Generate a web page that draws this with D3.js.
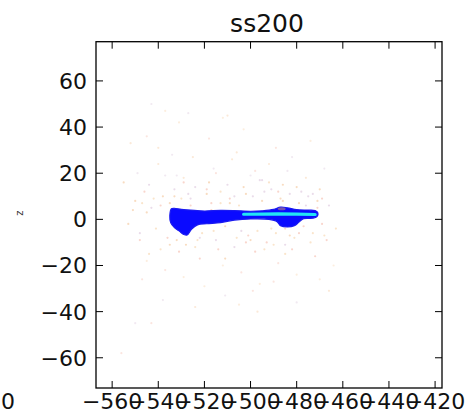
<!DOCTYPE html>
<html>
<head>
<meta charset="utf-8">
<script src="https://cdn.jsdelivr.net/npm/d3@7/dist/d3.min.js"></script>
<style>
  html, body { margin: 0; padding: 0; background: #fff; }
  svg { display: block; font-family: "DejaVu Sans", sans-serif; }
</style>
</head>
<body>
<svg id="chart" width="468" height="419"></svg>
<script>
// Axis ticks
const xTicks = [-560, -540, -520, -500, -480, -460, -440, -420];
const zTicks = [-60, -40, -20, 0, 20, 40, 60];

// Outline of the dense core of the projection (x, z)
const coreX = [-534.3, -533, -530, -526, -520, -513, -507, -500, -495, -490, -487, -484, -480, -475, -472, -470.8, -471.2,
               -473, -477, -479, -481, -484, -487, -488.5, -492, -500, -507, -513, -519, -523, -525.5, -527.5, -529, -531, -533, -534.6, -535];
const coreZ = [4.6, 4.8, 4.3, 4.0, 3.6, 3.9, 3.8, 3.5, 3.7, 4.3, 5.3, 5.0, 4.2, 4.0, 3.8, 2.8, 1.2,
               0.5, 0.3, -1.2, -2.8, -3.3, -2.8, -1.0, 0.0, 0.2, -0.3, -1.4, -1.9, -2.4, -4.2, -6.8, -6.5, -5.0, -3.6, -1.5, 1.5];

// Highest-density ridge along the core
const ridgeX = [-503, -495, -488, -480, -472];
const ridgeZ = [2.2, 2.3, 2.4, 2.3, 2.1];

// Diffuse halo particles
const haloX = [-550, -546, -543, -541, -538, -536, -533, -530, -528, -526, -524, -521, -519, -517, -515, -513, -511, -509, -507, -505,
               -503, -501, -499, -497, -495, -493, -491, -489, -487, -485, -483, -481, -479, -477, -475, -473, -471, -469, -466, -463,
               -553, -548, -544, -539, -535, -531, -527, -523, -518, -514, -510, -506, -502, -498, -494, -490, -486, -482, -478, -474,
               -470, -467,
               -549, -545, -540, -537, -532, -529, -525, -522, -516, -512, -508, -504, -500, -496, -492, -488, -484, -480, -476, -472,
               -468, -464, -555, -547, -534, -520, -506, -490, -482, -470,
               -552, -545, -538, -531, -524, -518, -511, -503, -497, -489, -480, -474, -466, -543, -527, -512, -540, -499,
               -543, -537, -510, -556, -550, -505, -529, -515, -495, -485, -545, -521,
               -548, -542, -535, -529, -522, -516, -509, -502, -496, -491, -486, -479, -473, -468, -551, -539, -526, -513, -500, -488,
               -476, -544, -532, -519, -507, -494, -483, -471, -537, -524, -511, -498, -485, -547, -533, -517, -504, -492, -480, -469];
const haloZ = [8, 12, 5, -4, 10, -8, 13, 9, -11, 6, 14, -6, 11, 7, -9, 12, -3, 9, -12, 6,
               14, -7, 10, -5, 8, -10, 13, -6, 9, -4, 11, -8, 7, -3, 10, -6, 8, -2, 6, -4,
               -2, -9, 15, -13, 7, -14, 11, -9, 16, -13, 15, -8, 11, -14, 12, -11, 15, -13, 12, -10,
               13, -9,
               20, -18, 24, -22, 19, -25, 27, -17, 22, -20, 26, -23, 19, -28, 24, -19, 21, -24, 18, -16,
               22, -20, 16, -26, 28, -29, 29, -27, 27, -26,
               33, 36, -35, 42, -38, 35, -33, 39, -40, 31, -36, 34, -31, -45, 46, 44, 31, -31,
               50, 47, 45, -58, -45, -37, 18, 20, 17, -15, 3, 2,
               -6, 9, -11, 16, -8, -5, 7, -10, 17, -4, 8, -6, 11, -7, 4, 6, 9, 7, -9, 12,
               6, -15, -9, 13, 10, -13, -7, 5, 19, -12, -17, 21, -11, 7, 10, 4, -5, 16, 14, 9];
const haloTint = ["#f3bf8e", "#f4b4a4", "#d8c0d8", "#f6cfa2"];

const svg = d3.select("#chart");
const padL = 96, padR = 442, padT = 41.7, padB = 388;

const x = d3.scaleLinear().domain([-567, -417]).range([padL, padR]);
const z = d3.scaleLinear().domain([-73.1, 77]).range([padB, padT]);

const fmt = v => (v < 0 ? "\u2212" + Math.abs(v) : String(v));

// plotting area clip
svg.append("clipPath").attr("id", "plot-clip")
  .append("rect").attr("x", padL).attr("y", padT).attr("width", padR - padL).attr("height", padB - padT);

const plot = svg.append("g").attr("clip-path", "url(#plot-clip)");

// halo
plot.append("g").selectAll("circle")
  .data(d3.range(haloX.length))
  .join("circle")
  .attr("cx", i => x(haloX[i]))
  .attr("cy", i => z(haloZ[i]))
  .attr("r", 1.1)
  .attr("fill", i => haloTint[i % 4])
  .attr("fill-opacity", i => (Math.abs(haloZ[i]) < 18 ? 0.55 : 0.35));

// core
const corePts = coreX.map((v, i) => [x(v), z(coreZ[i])]);
plot.append("path")
  .attr("d", d3.line().curve(d3.curveCatmullRomClosed.alpha(0.5))(corePts))
  .attr("fill", "#0a0aff")
  .attr("stroke", "#1a1af0")
  .attr("stroke-width", 1.2)
  .attr("stroke-linejoin", "round");

// warm spot on top of the core
plot.append("ellipse")
  .attr("cx", x(-486.5)).attr("cy", z(4.6))
  .attr("rx", 4).attr("ry", 1.6)
  .attr("fill", "#d09070").attr("fill-opacity", 0.55);

// ridge
plot.append("path")
  .attr("d", d3.line()(ridgeX.map((v, i) => [x(v), z(ridgeZ[i])])))
  .attr("fill", "none")
  .attr("stroke", "#22e4f4")
  .attr("stroke-width", 3.2)
  .attr("stroke-linecap", "round");

// frame
svg.append("rect")
  .attr("x", padL).attr("y", padT)
  .attr("width", padR - padL).attr("height", padB - padT)
  .attr("fill", "none").attr("stroke", "#000").attr("stroke-width", 1.3);

// inward ticks on all four sides
const tickLen = 7;
const tg = svg.append("g").attr("stroke", "#000").attr("stroke-width", 1);
xTicks.forEach(t => {
  tg.append("line").attr("x1", x(t)).attr("x2", x(t)).attr("y1", padB).attr("y2", padB - tickLen);
  tg.append("line").attr("x1", x(t)).attr("x2", x(t)).attr("y1", padT).attr("y2", padT + tickLen);
});
zTicks.forEach(t => {
  tg.append("line").attr("y1", z(t)).attr("y2", z(t)).attr("x1", padL).attr("x2", padL + tickLen);
  tg.append("line").attr("y1", z(t)).attr("y2", z(t)).attr("x1", padR).attr("x2", padR - tickLen);
});

// tick labels
svg.append("g").selectAll("text")
  .data(xTicks).join("text")
  .attr("x", d => x(d)).attr("y", 409)
  .attr("text-anchor", "middle")
  .attr("font-size", 22).attr("fill", "#111")
  .text(fmt);

svg.append("g").selectAll("text")
  .data(zTicks).join("text")
  .attr("x", 87).attr("y", d => z(d)).attr("dy", "0.36em")
  .attr("text-anchor", "end")
  .attr("font-size", 22).attr("fill", "#111")
  .text(fmt);

// axis label
svg.append("text")
  .attr("transform", "translate(23,213) rotate(-90)")
  .attr("text-anchor", "middle")
  .attr("font-size", 10).attr("fill", "#333")
  .text("z");

// title
svg.append("text")
  .attr("x", (padL + padR) / 2 - 2).attr("y", 31.5)
  .attr("text-anchor", "middle")
  .attr("font-size", 25).attr("fill", "#111")
  .text("ss200");

// neighbouring colour-scale label
svg.append("text")
  .attr("x", 1).attr("y", 409)
  .attr("font-size", 22).attr("fill", "#111")
  .text("0");
</script>
</body>
</html>
